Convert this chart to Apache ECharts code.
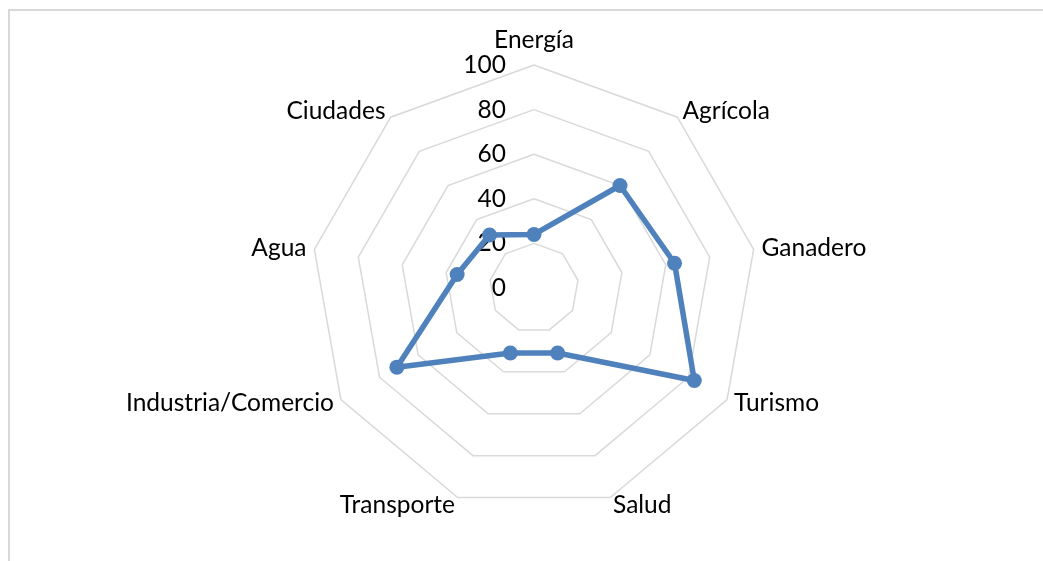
<!DOCTYPE html>
<html>
<head>
<meta charset="utf-8">
<script src="https://cdn.jsdelivr.net/npm/echarts@6/dist/echarts.min.js"></script>
<style>
  html, body {
    margin: 0;
    padding: 0;
    background: #fff;
    overflow: hidden;
  }
  .frame {
    position: absolute;
    left: 8px;
    top: 9px;
    width: 1100px;
    height: 600px;
    border: 2px solid #d9d9d9;
  }
  #chart {
    position: absolute;
    left: 0;
    top: 0;
    width: 1043px;
    height: 561px;
  }
</style>
</head>
<body>
<div class="frame"></div>
<div id="chart"></div>
<script>
const categories = ["Energía", "Agrícola", "Ganadero", "Turismo", "Salud", "Transporte", "Industria/Comercio", "Agua", "Ciudades"];
const values = [24, 60, 64, 83, 31, 31, 71, 35, 31];
const maxValue = 100;

// radar goes counter-clockwise, the Excel chart goes clockwise: keep the first, reverse the rest
const order = [0].concat(categories.map((c, i) => i).slice(1).reverse());

const chart = echarts.init(document.getElementById("chart"));

chart.setOption({
  backgroundColor: "transparent",
  radar: {
    center: [534, 288],
    radius: 223,
    startAngle: 90,
    splitNumber: 5,
    shape: "polygon",
    nameGap: 8,
    axisName: {
      color: "#000",
      fontSize: 24.5,
      fontFamily: "Lato"
    },
    axisLine: { show: false },
    axisTick: { show: false },
    axisLabel: { show: false },
    splitArea: { show: false },
    splitLine: {
      lineStyle: { color: "#d9d9d9", width: 1.5 }
    },
    indicator: order.map((idx, i) => {
      const item = { name: categories[idx], min: 0, max: maxValue };
      if (i === 0) {
        item.axisLabel = {
          show: true,
          color: "#000",
          fontSize: 24.5,
          fontFamily: "Lato",
          margin: 28,
          padding: [6, 0, 0, 0]
        };
      }
      return item;
    })
  },
  series: [
    {
      type: "radar",
      symbol: "circle",
      symbolSize: 15,
      lineStyle: { color: "#4f81bd", width: 5.5 },
      itemStyle: { color: "#4f81bd" },
      data: [{ value: order.map(idx => values[idx]) }]
    }
  ]
});
</script>
</body>
</html>
